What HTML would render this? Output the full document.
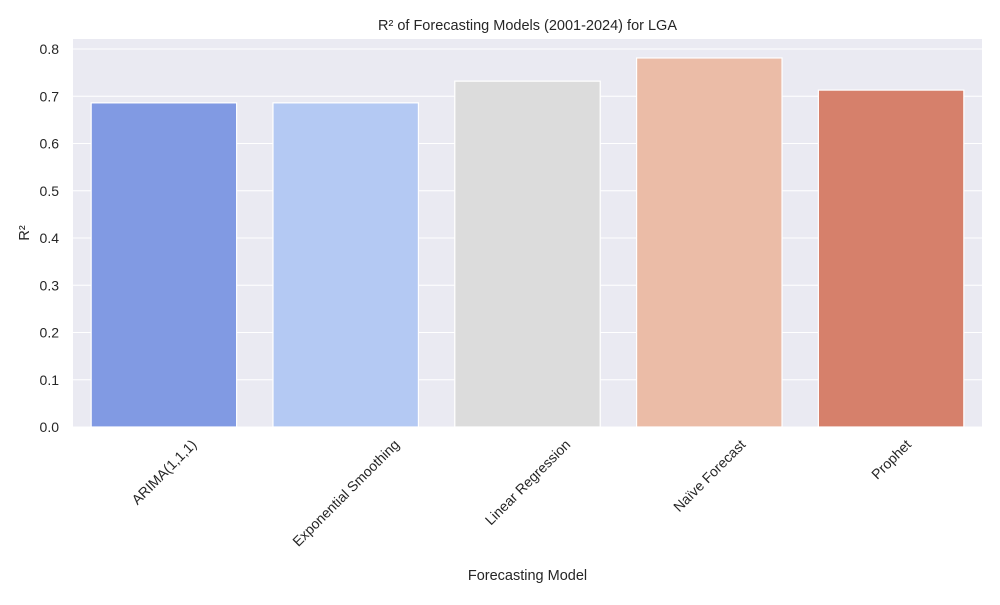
<!DOCTYPE html>
<html><head><meta charset="utf-8"><style>
body{margin:0;background:#fff;font-family:"Liberation Sans","DejaVu Sans",sans-serif}
</style></head><body>
<svg id="c" width="1000" height="600" xmlns="http://www.w3.org/2000/svg"></svg>
<script>
const categories=["ARIMA(1,1,1)","Exponential Smoothing","Linear Regression","Naïve Forecast","Prophet"];
const values=[0.686,0.686,0.732,0.781,0.713];
const yTicks=[0.0,0.1,0.2,0.3,0.4,0.5,0.6,0.7,0.8];
const colors=["#819ae3","#b4c9f3","#dcdcdc","#ebbca7","#d6806b"];
const L=73,R=982,T=39,B=427;
const ns="http://www.w3.org/2000/svg";
const svg=document.getElementById('c');
function y(v){return B-(v/0.8)*(B-49);}
const band=(R-L)/categories.length;
function x(i){return L+band*i+band/2;}
function el(t,a,p){const e=document.createElementNS(ns,t);for(const k in a)e.setAttribute(k,a[k]);(p||svg).appendChild(e);return e;}
const bg=el('rect',{x:L,y:T,width:R-L,height:B-T,fill:'#eaeaf2'});


yTicks.forEach(t=>{
 const g=el('line',{x1:L,x2:R,y1:y(t),y2:y(t),stroke:'#fff','stroke-width':1});
 
 
 const tx=el('text',{x:L-14,y:y(t)+5,'text-anchor':'end','font-size':14,fill:'#262626'});
 tx.textContent=t.toFixed(1);
 
 
});
categories.forEach((c,i)=>{
 const w=band*0.8;
 const r=el('rect',{x:x(i)-w/2,y:y(values[i]),width:w,height:B-y(values[i]),fill:colors[i],stroke:'#fff','stroke-width':1.2});
 
 
 const tx=el('text',{x:0,y:5,'text-anchor':'middle','font-size':14,fill:'#262626'});
 tx.textContent=c;
 
 
 const len=tx.getComputedTextLength();
 const box=(len+14)*0.7071;
 tx.setAttribute('transform',`translate(${x(i)},${B+10+box/2}) rotate(-45)`);
});
const t=el('text',{x:(L+R)/2,y:30,'text-anchor':'middle','font-size':14.5,fill:'#262626'});
t.textContent="R² of Forecasting Models (2001-2024) for LGA";


const xt=el('text',{x:(L+R)/2,y:580,'text-anchor':'middle','font-size':14.5,fill:'#262626'});
xt.textContent="Forecasting Model";


const yt=el('text',{x:0,y:0,'text-anchor':'middle','font-size':14.5,fill:'#262626',transform:`translate(29,${(T+B)/2}) rotate(-90)`});
yt.textContent="R²";


</script>
</body></html>
